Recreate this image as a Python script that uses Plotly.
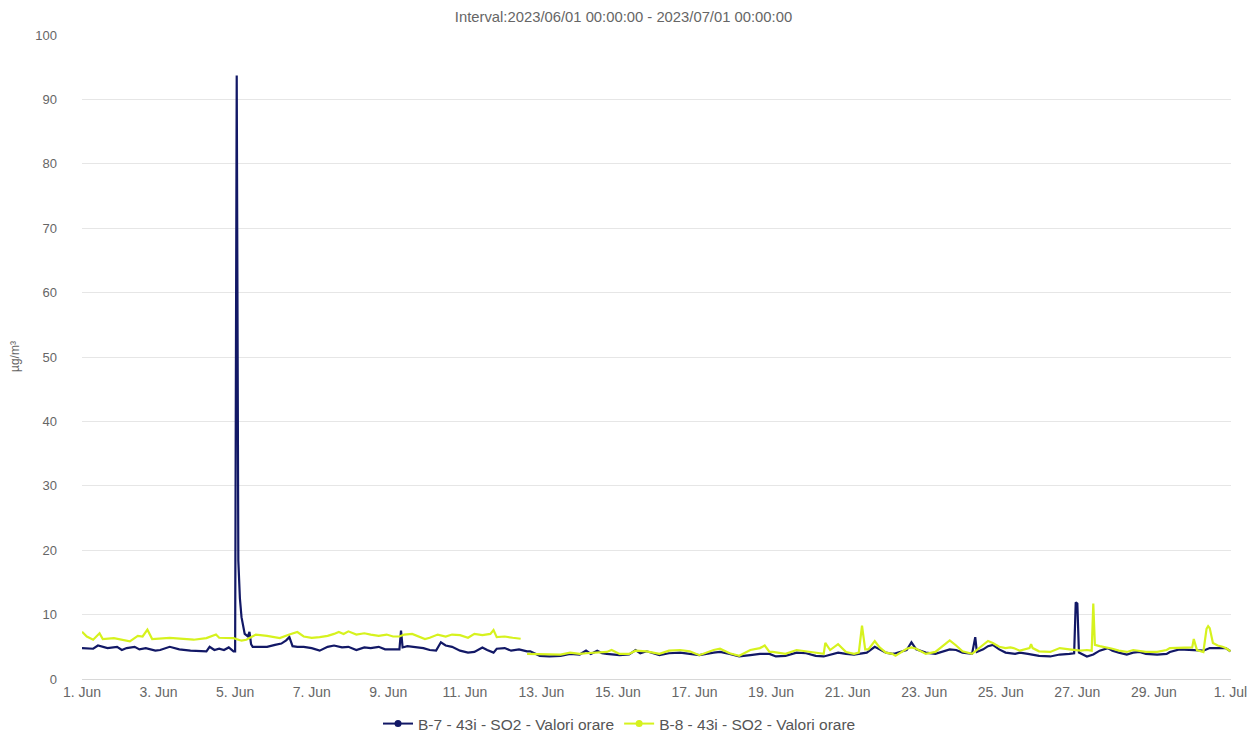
import datetime as dt
import plotly.graph_objects as go

START = dt.datetime(2023, 6, 1)

# B-7 - 43i - SO2 (hour offset from 2023-06-01 00:00, value µg/m³)
b7_hours = [0, 4, 7, 10, 16, 22, 25, 28, 33, 36, 40, 46, 49, 55, 61, 68, 74, 78, 80, 83,
            86, 89, 92, 95, 96, 97, 98, 99, 100, 101, 102, 103, 104, 105, 106, 107, 110, 116, 121, 125,
            128, 130, 132, 135, 139, 144, 149, 154, 158, 163, 167, 172, 177, 181, 186, 190, 195, 199, 200, 201,
            204, 209, 214, 218, 222, 225, 228, 232, 237, 242, 246, 251, 254, 258, 260, 265, 269, 274, 279, 281,
            287, 293, 300, 306, 312, 316, 319, 323, 326, 329, 337, 343, 347, 350, 354, 362, 368, 375, 381, 387,
            396, 400, 406, 412, 419, 425, 431, 435, 441, 448, 454, 460, 465, 474, 479, 484, 492, 497, 500, 504,
            508, 510, 517, 520, 523, 529, 535, 540, 544, 548, 552, 558, 560, 561, 565, 568, 571, 575, 579, 585,
            588, 593, 600, 607, 613, 619, 622, 623, 624, 625, 626, 630, 634, 638, 643, 646, 650, 655, 659, 663,
            667, 674, 680, 682, 688, 694, 697, 703, 707, 710, 715, 717, 720]
b7_values = [4.8, 4.7, 4.7, 5.2, 4.8, 5.0, 4.5, 4.8, 5.0, 4.6, 4.8, 4.4, 4.5, 5.0, 4.6, 4.4, 4.3, 4.3, 5.0, 4.5,
             4.7, 4.5, 4.9, 4.3, 4.3, 93.7, 18.4, 12.5, 9.6, 8.2, 7.0, 6.8, 6.6, 7.3, 5.4, 5.0, 5.0, 5.0, 5.3, 5.5,
             6.0, 6.5, 5.1, 5.0, 5.0, 4.8, 4.4, 5.0, 5.2, 4.9, 5.0, 4.5, 4.9, 4.8, 5.0, 4.6, 4.6, 4.6, 7.5, 4.9,
             5.1, 4.9, 4.8, 4.5, 4.4, 5.7, 5.2, 5.0, 4.4, 4.1, 4.2, 4.9, 4.5, 4.1, 4.7, 4.8, 4.4, 4.6, 4.3, 4.3,
             3.6, 3.5, 3.6, 3.9, 3.8, 4.4, 3.9, 4.4, 4.0, 3.9, 3.7, 3.8, 4.5, 4.0, 4.3, 3.7, 4.0, 4.1, 3.9, 3.7,
             4.1, 4.2, 3.9, 3.5, 3.7, 3.9, 3.9, 3.5, 3.6, 4.1, 4.0, 3.6, 3.5, 4.1, 3.9, 3.8, 4.1, 5.0, 4.6, 4.1,
             3.9, 4.0, 4.5, 5.7, 4.6, 4.1, 3.9, 4.3, 4.6, 4.5, 4.1, 3.9, 6.5, 4.2, 4.6, 5.1, 5.3, 4.6, 4.1, 3.9,
             4.1, 3.9, 3.6, 3.5, 3.8, 3.9, 4.0, 11.9, 11.7, 4.1, 4.0, 3.5, 3.8, 4.4, 4.8, 4.4, 4.1, 3.8, 4.1, 4.2,
             3.9, 3.8, 3.9, 4.2, 4.6, 4.5, 4.4, 4.4, 4.8, 4.8, 4.7, 4.8, 4.3]

# B-8 - 43i - SO2 (None = missing data)
b8_hours = [0, 3, 7, 11, 13, 20, 30, 35, 38, 41, 44, 55, 70, 78, 84, 86, 95, 100, 103, 109,
            116, 124, 130, 135, 139, 144, 149, 154, 158, 161, 164, 167, 172, 177, 181, 186, 191, 195, 199, 202,
            207, 211, 215, 218, 223, 228, 232, 237, 242, 246, 251, 256, 258, 260, 265, 270, 275, 277, 279, 287,
            293, 300, 306, 312, 316, 323, 329, 332, 337, 343, 347, 354, 362, 368, 375, 381, 387, 396, 400, 406,
            412, 419, 425, 428, 431, 433, 441, 448, 454, 460, 465, 466, 469, 474, 479, 484, 487, 489, 491, 493,
            497, 500, 504, 508, 510, 517, 520, 523, 529, 535, 540, 544, 548, 552, 558, 565, 568, 571, 575, 579,
            582, 584, 588, 594, 595, 596, 600, 607, 613, 619, 622, 626, 630, 633, 634, 635, 638, 643, 646, 650,
            655, 659, 663, 667, 674, 680, 682, 688, 696, 697, 699, 703, 705, 706, 707, 709, 712, 715, 717, 720]
b8_values = [7.35, 6.6, 6.1, 7.1, 6.2, 6.35, 5.85, 6.7, 6.6, 7.65, 6.2, 6.4, 6.1, 6.35, 6.9, 6.4, 6.35, 5.95, 6.1, 6.9,
             6.7, 6.35, 6.9, 7.3, 6.6, 6.4, 6.5, 6.7, 7.0, 7.3, 7.0, 7.4, 6.9, 7.1, 6.9, 6.7, 6.9, 6.6, 6.6, 6.9,
             7.0, 6.6, 6.2, 6.4, 6.9, 6.6, 6.9, 6.8, 6.4, 7.0, 6.8, 7.0, 7.6, 6.5, 6.6, 6.4, 6.25, None, 3.9, 3.9,
             3.8, 3.8, 4.1, 3.9, 4.0, 4.1, 4.2, 4.5, 3.9, 3.9, 4.4, 4.3, 3.9, 4.4, 4.5, 4.3, 3.7, 4.5, 4.7, 4.0,
             3.6, 4.5, 4.8, 5.2, 4.2, 4.2, 3.9, 4.5, 4.3, 4.0, 3.9, 5.6, 4.5, 5.4, 4.2, 3.9, 4.1, 8.3, 4.6, 4.6,
             5.9, 4.9, 4.1, 3.9, 3.6, 4.7, 4.9, 4.7, 3.9, 4.2, 5.2, 6.0, 5.2, 4.3, 3.9, 5.4, 5.9, 5.6, 5.0, 4.8,
             4.9, 4.8, 4.4, 4.8, 5.4, 4.8, 4.3, 4.2, 4.8, 4.6, 4.5, 4.4, 4.5, 4.4, 11.7, 5.3, 5.1, 4.9, 4.7, 4.4,
             4.2, 4.5, 4.3, 4.2, 4.2, 4.5, 4.8, 4.8, 4.9, 6.2, 4.5, 4.2, 7.8, 8.2, 7.9, 5.6, 5.2, 5.0, 4.8, 4.3]

series_names = ["B-7 - 43i - SO2 - Valori orare", "B-8 - 43i - SO2 - Valori orare"]
series_colors = ["#121866", "#d6f21e"]
y_ticks = list(range(0, 101, 10))
title_text = "Interval:2023/06/01 00:00:00 - 2023/07/01 00:00:00"
y_title = "µg/m³"

def to_times(hours):
    return [START + dt.timedelta(hours=h) for h in hours]

fig = go.Figure()
for hours, vals, name, color in [(b7_hours, b7_values, series_names[0], series_colors[0]),
                                 (b8_hours, b8_values, series_names[1], series_colors[1])]:
    fig.add_trace(go.Scatter(x=to_times(hours), y=vals, mode="lines", name=name,
                             line=dict(color=color, width=2.2), showlegend=False,
                             connectgaps=False))
# legend entries (line + marker symbol)
for name, color in zip(series_names, series_colors):
    fig.add_trace(go.Scatter(x=[None], y=[None], mode="lines+markers", name=name,
                             line=dict(color=color, width=2),
                             marker=dict(color=color, size=7, symbol="circle")))

font_family = "Arial, Liberation Sans, Helvetica, sans-serif"
fig.update_layout(
    width=1247, height=732,
    paper_bgcolor="white", plot_bgcolor="white",
    margin=dict(l=82, r=16, t=35, b=53, autoexpand=False),
    font=dict(family=font_family, color="#666666", size=12),
    title=dict(text=title_text, x=0.5, xanchor="center", y=1 - 17 / 732, yanchor="middle",
               font=dict(size=14.8, color="#666666")),
    xaxis=dict(type="date",
               range=[START, START + dt.timedelta(days=30, minutes=20)],
               dtick=2 * 86400000, tick0=START, tickformat="%-d. %b",
               showgrid=False, showline=True, linecolor="#d8d8d8", linewidth=1,
               ticks="", tickfont=dict(size=14, color="#666666"), zeroline=False,
               automargin=False, ticklabeloverflow="allow"),
    yaxis=dict(range=[0, 100], tickvals=y_ticks, showgrid=True, gridcolor="#e6e6e6",
               gridwidth=1, zeroline=False, showline=False, ticks="",
               ticklabelstandoff=24, tickfont=dict(size=13, color="#666666"),
               automargin=False),
    legend=dict(orientation="h", x=(378 - 82) / 1149, xanchor="left", yref="container",
                y=8 / 732, yanchor="middle", font=dict(size=15.5, color="#555555"),
                itemwidth=30, tracegroupgap=0),
    annotations=[dict(text=y_title, xref="paper", yref="paper", x=-67 / 1149, y=0.5,
                      xanchor="center", yanchor="middle", textangle=-90, showarrow=False,
                      font=dict(size=12, color="#666666"))],
)

fig.write_html("out.html", config={"displayModeBar": False},
               post_script="document.body.style.margin='0';document.body.style.overflow='hidden';")
